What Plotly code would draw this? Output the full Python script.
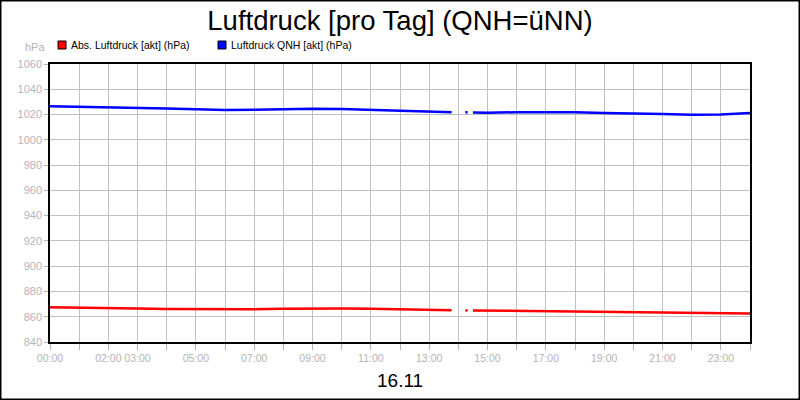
import plotly.graph_objects as go

# hours of the day (None = gap in the recording)
hours = [0, 1, 2, 3, 4, 5, 6, 7, 8, 9, 10, 11, 12, 13, 13.77, None,
         14.24, 14.32, None, 14.5, 15, 16, 17, 18, 19, 20, 21, 22, 23, 24]
qnh = [1026.6, 1026.2, 1026.0, 1025.1, 1024.7, 1024.2, 1023.6, 1023.8, 1024.4, 1024.6, 1024.3,
       1023.6, 1022.8, 1022.0, 1021.8, None,
       1021.8, 1021.8, None, 1021.7, 1021.5, 1021.8, 1022.0, 1021.8, 1021.2, 1021.0, 1020.4,
       1019.9, 1020.1, 1021.2]
absp = [867.5, 867.0, 866.7, 866.5, 866.2, 866.0, 865.6, 865.9, 866.3, 866.7, 866.6,
        866.4, 865.9, 865.4, 865.2, None,
        865.0, 865.0, None, 865.0, 864.9, 864.7, 864.4, 864.2, 864.0, 863.9, 863.7,
        863.4, 863.1, 862.6]

tick_hours = list(range(25))
tick_labels = ['00:00', '', '02:00', '03:00', '', '05:00', '', '07:00', '', '09:00', '', '11:00',
               '', '13:00', '', '15:00', '', '17:00', '', '19:00', '', '21:00', '', '23:00', '']

series_names = ['Abs. Luftdruck [akt] (hPa)', 'Luftdruck QNH [akt] (hPa)']
series_colors = ['#ff0000', '#0000ff']

grey = '#b4b4b4'
font = 'Liberation Sans, Arial, sans-serif'

W, H = 800, 400
L, R, T, B = 50, 50, 64, 58
pw, ph = W - L - R, H - T - B


def px(x):
    return (x - L) / pw


def py(y):
    return (H - B - y) / ph


fig = go.Figure()
fig.add_trace(go.Scatter(x=hours, y=absp, mode='lines', name=series_names[0],
                         line=dict(color=series_colors[0], width=2.5), connectgaps=False))
fig.add_trace(go.Scatter(x=hours, y=qnh, mode='lines', name=series_names[1],
                         line=dict(color=series_colors[1], width=2.5), connectgaps=False))

annotations = [
    dict(text='hPa', xref='paper', yref='paper', x=px(47), y=py(47), xanchor='right',
         yanchor='middle', showarrow=False, font=dict(color=grey, size=11)),
    dict(text='16.11', xref='paper', yref='paper', x=0.5, y=py(380), xanchor='center',
         yanchor='middle', showarrow=False, font=dict(color='black', size=19)),
]
shapes = [dict(type='rect', xref='paper', yref='paper',
               x0=px(0.75), x1=px(799.25), y0=py(399.25), y1=py(0.75),
               line=dict(color='black', width=1.5), fillcolor='rgba(0,0,0,0)', layer='below')]

# hand-made legend: small squares with text
for i, (name, col) in enumerate(zip(series_names, series_colors)):
    x0 = 58 + 160 * i
    shapes.append(dict(type='rect', xref='paper', yref='paper',
                       x0=px(x0), x1=px(x0 + 8), y0=py(49), y1=py(41),
                       line=dict(color='#000000', width=1), fillcolor=col))
    annotations.append(dict(text=name, xref='paper', yref='paper', x=px(x0 + 11), y=py(45),
                            xanchor='left', yanchor='middle', showarrow=False,
                            font=dict(color='black', size=10.5)))

fig.update_layout(
    width=W, height=H,
    margin=dict(l=L, r=R, t=T, b=B),
    paper_bgcolor='white', plot_bgcolor='white',
    showlegend=False,
    font=dict(family=font, size=11, color='black'),
    title=dict(text='Luftdruck [pro Tag] (QNH=üNN)', x=0.5, xanchor='center',
               y=1 - 20 / H, yanchor='middle', font=dict(size=27.5, color='black')),
    xaxis=dict(range=[0, 24], tickvals=tick_hours, ticktext=tick_labels, tickangle=0,
               automargin=False,
               showgrid=True, gridcolor='#c0c0c0', gridwidth=1,
               showline=True, linecolor='black', linewidth=1.5, mirror=True,
               ticks='outside', ticklen=6, tickcolor=grey,
               tickfont=dict(color=grey, size=10.5), zeroline=False),
    yaxis=dict(range=[840, 1060], dtick=20, tick0=840, automargin=False,
               showgrid=True, gridcolor='#c0c0c0', gridwidth=1,
               showline=True, linecolor='black', linewidth=1.5, mirror=True,
               ticks='outside', ticklen=4, tickcolor=grey,
               tickfont=dict(color=grey, size=11), zeroline=False),
    annotations=annotations,
    shapes=shapes,
)

fig.write_html('out.html', config={'displayModeBar': False},
               post_script="document.body.style.margin='0';")
